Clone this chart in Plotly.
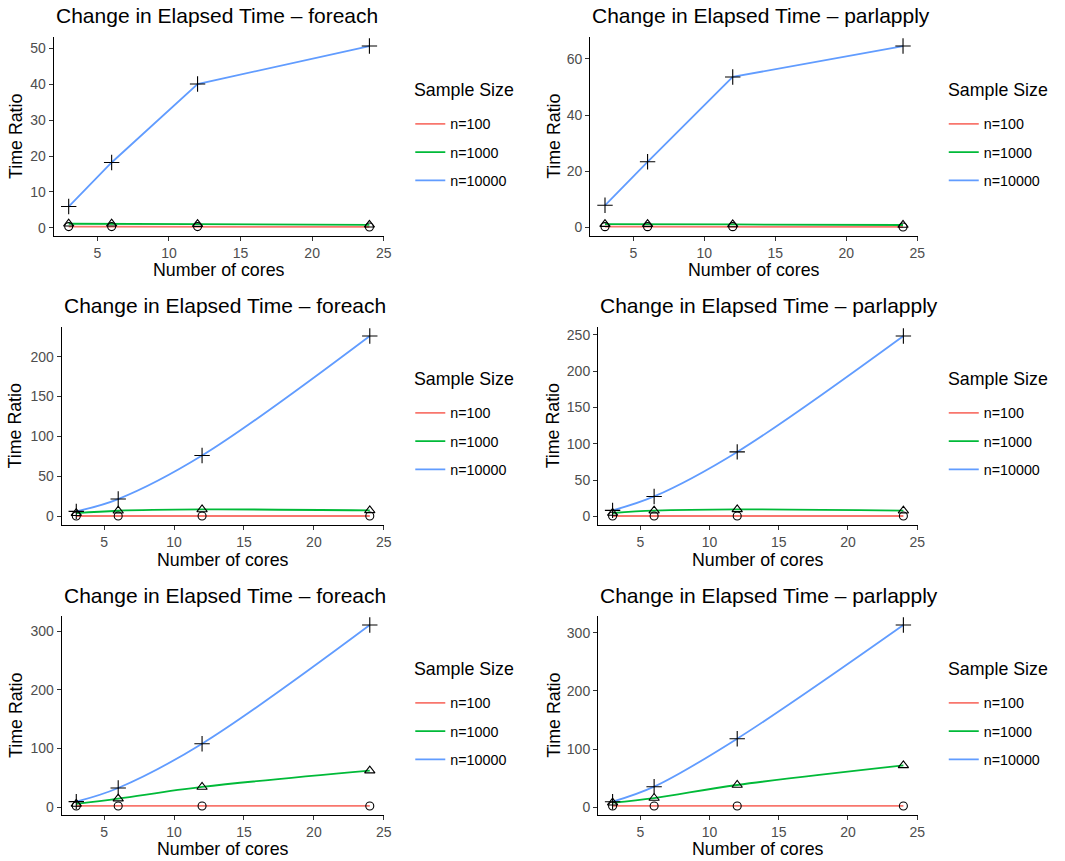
import plotly.graph_objects as go

# ---------------- data ----------------
cores = [3, 6, 12, 24]
series_names = ["n=100", "n=1000", "n=10000"]
panel_titles = [
    "Change in Elapsed Time \u2013 foreach", "Change in Elapsed Time \u2013 parlapply",
    "Change in Elapsed Time \u2013 foreach", "Change in Elapsed Time \u2013 parlapply",
    "Change in Elapsed Time \u2013 foreach", "Change in Elapsed Time \u2013 parlapply",
]
x_ticks = [5, 10, 15, 20, 25]

p1_n100 = [0.3, 0.3, 0.3, 0.2]
p1_n1000 = [1.1, 1.1, 1.0, 0.8]
p1_n10000 = [5.9, 18.2, 40.1, 50.7]

p2_n100 = [0.3, 0.3, 0.3, 0.2]
p2_n1000 = [1.2, 1.2, 1.1, 0.9]
p2_n10000 = [7.9, 23.4, 53.6, 64.6]

p3_n100 = [0.4, 0.4, 0.4, 0.4]
p3_n1000 = [3.9, 7.0, 8.6, 7.4]
p3_n10000 = [6.2, 21.6, 76.1, 225.8]

p4_n100 = [0.5, 0.5, 0.5, 0.5]
p4_n1000 = [4.6, 7.8, 9.6, 7.8]
p4_n10000 = [8.2, 27.4, 88.7, 248.2]

p5_n100 = [2.3, 2.3, 2.3, 2.3]
p5_n1000 = [5.7, 14.7, 34.6, 62.4]
p5_n10000 = [9.6, 32.9, 108.3, 310.3]

p6_n100 = [2.4, 2.4, 2.4, 2.4]
p6_n1000 = [8.0, 16.0, 38.4, 72.1]
p6_n10000 = [9.7, 35.5, 117.9, 313.0]

y_tick_steps = [10, 20, 50, 50, 100, 100]

panels = [
    [p1_n100, p1_n1000, p1_n10000],
    [p2_n100, p2_n1000, p2_n10000],
    [p3_n100, p3_n1000, p3_n10000],
    [p4_n100, p4_n1000, p4_n10000],
    [p5_n100, p5_n1000, p5_n10000],
    [p6_n100, p6_n1000, p6_n10000],
]

# ---------------- style / layout ----------------
W, H = 1065, 861
FONT = "Liberation Sans, Arial, sans-serif"
colors = ["#F8766D", "#00BA38", "#619CFF"]
symbols = ["circle-open", "triangle-up-open", "cross-thin-open"]
msizes = [8, 9, 11]

# pixel boxes: (left, right, top, bottom)
boxes = [
    (54, 387, 37, 236), (594, 924, 37, 236),
    (62, 387, 327, 525), (602, 924, 327, 525),
    (62, 387, 616, 815), (602, 924, 616, 815),
]
ytitle_x = [15.5, 557, 15.5, 557, 15.5, 557]
xtitle_y = [270, 270, 560, 560, 849, 849]
title_y = [16, 16, 306, 306, 595, 595]
legtitle_pos = [(415, 90), (952, 90), (415, 379), (952, 379), (415, 669), (952, 669)]
line_shapes = ["linear", "linear", "spline", "spline", "spline", "spline"]
LEG_ITEM_OFFSET = 33  # px from legend title centre to first entry centre
LEG_TOP_PAD = 15


def px_x(v):
    return v / W


def px_y(v):
    return 1 - v / H


fig = go.Figure()
layout = dict(
    width=W, height=H, margin=dict(l=0, r=0, t=0, b=0),
    paper_bgcolor="white", plot_bgcolor="white",
    font=dict(family=FONT, color="black"),
    annotations=[],
)

xmin, xmax = min(cores), max(cores)
xr = [xmin - 0.05 * (xmax - xmin), xmax + 0.05 * (xmax - xmin)]

for i, (pdata, box) in enumerate(zip(panels, boxes)):
    k = i + 1
    xa = "x" if k == 1 else f"x{k}"
    ya = "y" if k == 1 else f"y{k}"
    leg = "legend" if k == 1 else f"legend{k}"
    allv = [v for s in pdata for v in s]
    lo, hi = min(allv), max(allv)
    yr = [lo - 0.05 * (hi - lo), hi + 0.05 * (hi - lo)]
    l, r, t, b = box
    axis_common = dict(
        showgrid=False, zeroline=False, showline=True, linecolor="black", linewidth=1.1,
        ticks="outside", ticklen=4, tickwidth=1.1, tickcolor="#333333",
        tickfont=dict(size=14, color="#4D4D4D", family=FONT),
    )
    layout["xaxis" if k == 1 else f"xaxis{k}"] = dict(
        domain=[px_x(l), px_x(r)], range=xr, anchor=ya, tickvals=x_ticks, **axis_common)
    layout["yaxis" if k == 1 else f"yaxis{k}"] = dict(
        domain=[px_y(b), px_y(t)], range=yr, anchor=xa, tick0=0, dtick=y_tick_steps[i], **axis_common)

    for j in range(3):
        fig.add_trace(go.Scatter(
            x=cores, y=pdata[j], mode="lines", name=series_names[j],
            line=dict(color=colors[j], width=1.8, shape=line_shapes[i]),
            xaxis=xa, yaxis=ya, legend=leg, legendgroup=f"g{k}_{j}", showlegend=True,
            hoverinfo="skip",
        ))
    for j in range(3):
        fig.add_trace(go.Scatter(
            x=cores, y=pdata[j], mode="markers", name=series_names[j],
            marker=dict(symbol=symbols[j], size=msizes[j], color="black", line=dict(color="black", width=1.1)),
            xaxis=xa, yaxis=ya, showlegend=False, legendgroup=f"g{k}_{j}",
        ))

    tx, ty = legtitle_pos[i]
    layout[leg] = dict(
        x=px_x(tx - 2), y=px_y(ty + LEG_ITEM_OFFSET - LEG_TOP_PAD), xanchor="left", yanchor="top",
        font=dict(size=14.3, family=FONT, color="black"),
        bgcolor="rgba(0,0,0,0)", tracegroupgap=6.7, traceorder="grouped",
    )

    layout["annotations"] += [
        dict(text=panel_titles[i], x=px_x(l), y=px_y(title_y[i]), xref="paper", yref="paper",
             xanchor="left", yanchor="middle", showarrow=False,
             font=dict(size=21, family=FONT, color="black")),
        dict(text="Number of cores", x=px_x((l + r) / 2), y=px_y(xtitle_y[i]), xref="paper", yref="paper",
             xanchor="center", yanchor="middle", showarrow=False,
             font=dict(size=17.8, family=FONT, color="black")),
        dict(text="Time Ratio", x=px_x(ytitle_x[i]), y=px_y((t + b) / 2), xref="paper", yref="paper",
             xanchor="center", yanchor="middle", showarrow=False, textangle=-90,
             font=dict(size=17.8, family=FONT, color="black")),
        dict(text="Sample Size", x=px_x(tx), y=px_y(ty), xref="paper", yref="paper",
             xanchor="left", yanchor="middle", showarrow=False,
             font=dict(size=17.8, family=FONT, color="black")),
    ]

fig.update_layout(**layout)
fig.write_html("out.html")
